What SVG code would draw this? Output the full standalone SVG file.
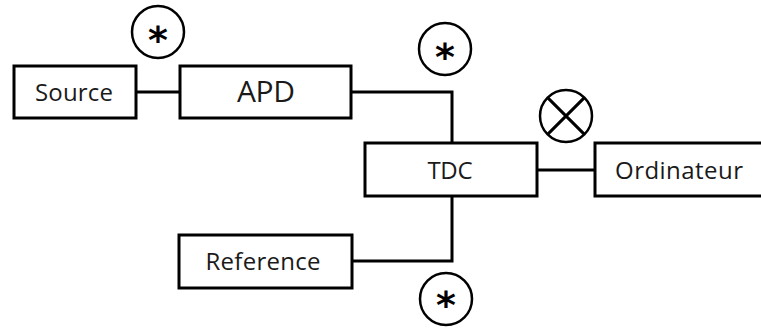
<svg xmlns="http://www.w3.org/2000/svg" width="761" height="328" viewBox="0 0 761 328">
<style>
.box{fill:#fff;stroke:#000;stroke-width:3}
.lbl{font-family:"Open Sans","Noto Sans",sans-serif;fill:#1a1a1a;text-anchor:middle}
.wire{fill:none;stroke:#000;stroke-width:3}
.sym{fill:#fff;stroke:#000;stroke-width:2.5}
.ast{font-family:"DejaVu Sans",sans-serif;font-size:38px;font-weight:bold;fill:#000;text-anchor:middle}
</style>
<rect width="761" height="328" fill="#fff"/>
<g id="connectors">
<path class="wire" d="M136 92H180"/>
<path class="wire" d="M351 92H452V143"/>
<path class="wire" d="M537 170H595"/>
<path class="wire" d="M452 196V261H352"/>
</g>
<g id="source"><rect class="box" x="14" y="66" width="122" height="52"/><text class="lbl" x="74" y="101" font-size="24" textLength="78">Source</text></g>
<g id="apd"><rect class="box" x="180" y="66" width="171" height="52"/><text class="lbl" x="266" y="102" font-size="30" textLength="58">APD</text></g>
<g id="tdc"><rect class="box" x="365" y="143" width="172" height="53"/><text class="lbl" x="450" y="179" font-size="24" textLength="45">TDC</text></g>
<g id="ordinateur"><rect class="box" x="595" y="143" width="170" height="53"/><text class="lbl" x="679" y="179" font-size="24" textLength="128">Ordinateur</text></g>
<g id="reference"><rect class="box" x="179" y="235" width="173" height="53"/><text class="lbl" x="263" y="270" font-size="24" textLength="115">Reference</text></g>
<g id="mark1"><circle class="sym" cx="158" cy="32" r="26"/><text class="ast" x="158" y="53">*</text></g>
<g id="mark2"><circle class="sym" cx="445" cy="49" r="26"/><text class="ast" x="445" y="70">*</text></g>
<g id="mark3"><circle class="sym" cx="446" cy="299" r="26"/><text class="ast" x="446" y="318" font-size="35">*</text></g>
<g id="mark4"><circle class="sym" cx="566" cy="116" r="26"/><path class="wire" stroke-width="2.5" d="M547.6 97.6L584.4 134.4M584.4 97.6L547.6 134.4"/></g>
</svg>
